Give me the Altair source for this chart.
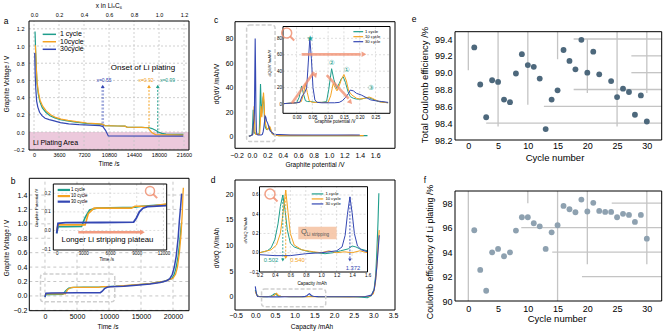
import altair as alt
import pandas as pd

FONT = "Liberation Sans"
SYM = "DejaVu Sans"
TEAL = "#1f9e8c"
ORANGE = "#f5a322"
BLUE = "#3447b3"
SALMON = "#f08b6b"
GRIDC = "#c4c4c4"
SERIES = ["1 cycle", "10 cycle", "30 cycle"]

# ---------------- panel a : discharge (plating) ----------------
A_T_1 = [150, 220, 300, 420, 600, 850, 1200, 1700, 2300, 3000, 3800, 4800, 6000, 7500, 8800, 9800, 10200, 12000, 13100, 13400, 15500, 16600, 17000, 17500, 17900, 18400, 19000, 21500]
A_V_1 = [1.17, 0.98, 0.80, 0.58, 0.45, 0.35, 0.28, 0.23, 0.19, 0.165, 0.145, 0.13, 0.115, 0.10, 0.095, 0.09, 0.075, 0.07, 0.068, 0.058, 0.055, 0.05, 0.04, 0.02, 0.0, -0.015, -0.025, -0.027]
A_T_10 = [200, 260, 330, 450, 620, 870, 1250, 1750, 2400, 3100, 3900, 4900, 6100, 7600, 8900, 9800, 10200, 12000, 13100, 13400, 15500, 16400, 16700, 17000, 17500, 21500]
A_V_10 = [1.01, 0.90, 0.75, 0.58, 0.47, 0.37, 0.30, 0.245, 0.20, 0.17, 0.15, 0.135, 0.12, 0.105, 0.098, 0.092, 0.075, 0.07, 0.068, 0.058, 0.055, 0.05, 0.02, -0.01, -0.03, -0.035]
A_T_30 = [100, 180, 260, 380, 550, 800, 1150, 1600, 2200, 2900, 3800, 5000, 6500, 8000, 9500, 9900, 10300, 10700, 21500]
A_V_30 = [0.92, 0.65, 0.50, 0.36, 0.29, 0.23, 0.19, 0.16, 0.145, 0.13, 0.11, 0.095, 0.085, 0.08, 0.075, 0.065, 0.02, -0.045, -0.047]
A_XTICKS = [0, 3600, 7200, 10800, 14400, 18000, 21600]
A_TOPTICKS = [0.0, 0.2, 0.4, 0.6, 0.8, 1.0, 1.2]
A_YTICKS = [-0.2, 0.0, 0.2, 0.4, 0.6, 0.8, 1.0, 1.2]
A_ONSET_X = [0.55, 0.92, 0.99]
A_ONSET_T = [9900, 16560, 17820]
A_ONSET_LOW = [0.05, 0.05, -0.016]

# ---------------- panel b : charge (stripping) ----------------
B_T_1 = [0, 150, 1000, 2800, 3200, 3700, 4500, 6000, 8800, 9550, 12300, 13800, 16400, 18500, 19300, 19800, 20200, 20500, 20800, 21050, 21250, 21350]
B_V_1 = [-0.015, 0.02, 0.02, 0.022, 0.07, 0.11, 0.12, 0.122, 0.125, 0.13, 0.14, 0.15, 0.17, 0.2, 0.225, 0.24, 0.3, 0.4, 0.55, 0.75, 0.95, 1.02]
B_T_10 = [0, 150, 1000, 3200, 3550, 4200, 6000, 8400, 8800, 10500, 12300, 13800, 16400, 18500, 19500, 20000, 20400, 20700, 21000, 21250, 21450, 21550, 21620]
B_V_10 = [0.0, 0.03, 0.03, 0.03, 0.09, 0.12, 0.12, 0.12, 0.13, 0.13, 0.142, 0.152, 0.172, 0.2, 0.23, 0.245, 0.3, 0.4, 0.6, 0.85, 1.15, 1.4, 1.5]
B_T_30 = [0, 150, 1000, 5000, 8650, 8950, 9300, 9700, 10200, 12300, 13800, 16400, 18000, 19000, 19500, 19900, 20200, 20500, 20800, 21000, 21200, 21350]
B_V_30 = [-0.015, 0.038, 0.042, 0.043, 0.045, 0.066, 0.10, 0.12, 0.128, 0.134, 0.145, 0.165, 0.185, 0.21, 0.24, 0.3, 0.4, 0.55, 0.8, 1.05, 1.25, 1.42]
B_XTICKS = [0, 5000, 10000, 15000, 20000]
B_YTICKS = [-0.2, 0.0, 0.2, 0.4, 0.6, 0.8, 1.0, 1.2, 1.4]
BI_XTICKS = [0, 3000, 6000, 9000, 12000]
BI_YTICKS = [-0.1, 0.0, 0.1, 0.2]

# ---------------- panel c : dQ/dV ----------------
C_X_1 = [-0.04, -0.02, 0.0, 0.008, 0.016, 0.022, 0.028, 0.035, 0.045, 0.06, 0.08, 0.095, 0.102, 0.111, 0.118, 0.127, 0.135, 0.142, 0.148, 0.155, 0.163, 0.17, 0.18, 0.19, 0.205, 0.215, 0.227, 0.24, 0.26, 0.29, 0.35, 0.5, 0.8, 1.1, 1.4, 1.5]
C_Y_1 = [0.5, 1, 1.5, 8, 22, 12, 4, 3, 3, 2, 2, 3, 18, 43, 30, 19, 25, 31, 33, 26, 15, 9, 7, 6, 6, 7, 8, 6, 3, 1.5, 1, 1, 1, 1, 1, 1]
C_X_10 = [-0.04, -0.02, 0.0, 0.015, 0.022, 0.028, 0.034, 0.04, 0.05, 0.06, 0.08, 0.1, 0.108, 0.116, 0.122, 0.128, 0.135, 0.142, 0.15, 0.158, 0.165, 0.175, 0.19, 0.2, 0.215, 0.23, 0.24, 0.25, 0.265, 0.29, 0.35, 0.5, 0.8, 1.1, 1.3, 1.4, 1.45]
C_Y_10 = [0.5, 1, 1.5, 3, 12, 25, 14, 4, 2, 2, 2, 2, 10, 25, 20, 16, 22, 30, 36, 28, 16, 11, 7, 6, 7, 8.5, 7, 5, 2.5, 1.5, 1, 1.2, 1, 1, 1.2, 1, 1]
C_X_30 = [-0.04, -0.02, 0.0, 0.01, 0.018, 0.026, 0.032, 0.037, 0.042, 0.047, 0.052, 0.058, 0.065, 0.08, 0.1, 0.12, 0.135, 0.145, 0.155, 0.165, 0.17, 0.18, 0.19, 0.205, 0.22, 0.235, 0.25, 0.27, 0.29, 0.5, 0.8, 1.1, 1.4]
C_Y_30 = [0.5, 1, 1.5, 2, 10, 14, 20, 50, 80, 55, 20, 5, 2, 1.5, 1.5, 1.5, 2, 4, 8, 13, 17, 16, 13, 11, 8, 5, 4, 3, 2, 1.5, 1.5, 1.5, 1.5]
C_XTICKS = [-0.2, 0.0, 0.2, 0.4, 0.6, 0.8, 1.0, 1.2, 1.4, 1.6]
C_YTICKS = [0, 20, 40, 60, 80]
CI_XTICKS = [0.0, 0.05, 0.10, 0.15, 0.20, 0.25]
CI_YTICKS = [0, 20, 40, 60, 80]

# ---------------- panel d : dV/dQ ----------------
D_X_1 = [0.0, 0.04, 0.08, 0.2, 0.3, 0.35, 0.4, 0.44, 0.47, 0.502, 0.53, 0.56, 0.6, 0.65, 0.75, 0.85, 0.95, 1.05, 1.15, 1.25, 1.35, 1.4, 1.45, 1.5, 1.6, 1.8, 2.2, 2.5, 2.7, 2.85, 2.95, 3.02, 3.06, 3.09, 3.12, 3.14]
D_Y_1 = [1.3, 0.4, 0.05, 0.0, 0.02, 0.05, 0.14, 0.3, 0.48, 0.6, 0.45, 0.24, 0.1, 0.06, 0.03, 0.01, 0.0, -0.01, 0.0, 0.02, 0.04, 0.07, 0.06, 0.04, 0.02, 0.01, 0.0, 0.0, -0.1, -0.2, 0.2, 1.5, 4.3, 9.0, 15.0, 20.2]
D_X_10 = [0.0, 0.04, 0.08, 0.2, 0.35, 0.42, 0.47, 0.5, 0.54, 0.57, 0.6, 0.65, 0.75, 0.9, 1.0, 1.1, 1.2, 1.3, 1.4, 1.5, 1.6, 2.0, 2.4, 2.6, 2.9, 3.0, 3.05, 3.09, 3.12, 3.15]
D_Y_10 = [1.0, 0.3, 0.05, 0.0, 0.03, 0.08, 0.2, 0.38, 0.65, 0.42, 0.2, 0.08, 0.03, 0.01, 0.0, 0.02, 0.0, 0.01, 0.0, 0.02, 0.0, 0.0, -0.05, 0.0, 0.1, 0.6, 2.5, 6.0, 10.0, 13.0]
D_X_30 = [0.0, 0.03, 0.06, 0.2, 0.4, 0.6, 0.8, 1.0, 1.2, 1.27, 1.31, 1.34, 1.372, 1.4, 1.43, 1.47, 1.52, 1.6, 2.0, 2.5, 2.8, 2.95, 3.02, 3.06, 3.1, 3.13, 3.15]
D_Y_30 = [2.0, 0.5, 0.05, -0.02, -0.03, -0.03, -0.01, 0.0, 0.02, 0.06, 0.18, 0.4, 0.58, 0.42, 0.2, 0.07, 0.03, 0.01, 0.0, 0.0, 0.05, 0.3, 1.3, 3.5, 7.0, 10.0, 12.0]
D_XTICKS = [-0.5, 0.0, 0.5, 1.0, 1.5, 2.0, 2.5, 3.0, 3.5]
D_YTICKS = [0, 5, 10, 15, 20]
DI_XTICKS = [0.2, 0.4, 0.6, 0.8, 1.0, 1.2, 1.4, 1.6]
DI_YTICKS = [-0.2, 0.0, 0.2, 0.4, 0.6]
D_PEAK_Q = [0.502, 0.540, 1.372]
D_PEAK_V = [0.6, 0.65, 0.58]
D_PEAK_LOW = [-0.075, -0.05, -0.075]

# ---------------- panel e / f : efficiencies ----------------
E_CYCLE = [1, 2, 3, 4, 5, 6, 7, 8, 9, 10, 11, 12, 13, 14, 15, 16, 17, 18, 19, 20, 21, 22, 24, 25, 26, 27, 28, 29, 30]
E_CE = [99.30, 98.86, 98.47, 98.91, 98.89, 98.68, 98.65, 98.99, 99.22, 99.09, 99.07, 98.93, 98.33, 98.68, 98.79, 99.27, 99.14, 99.04, 99.39, 99.00, 99.25, 98.98, 98.90, 98.71, 98.81, 98.77, 98.50, 98.73, 98.42]
F_CYCLE = list(range(1, 31))
F_CE = [95.79, 92.54, 90.84, 93.98, 94.26, 93.66, 93.98, 95.76, 96.85, 96.85, 96.36, 96.11, 94.26, 95.62, 96.20, 97.78, 97.51, 97.26, 98.30, 97.32, 98.03, 97.37, 97.29, 97.29, 96.85, 97.13, 97.04, 96.47, 97.04, 95.10]
EF_XTICKS = [0, 5, 10, 15, 20, 25, 30]
E_YTICKS = [98.2, 98.4, 98.6, 98.8, 99.0, 99.2, 99.4]
F_YTICKS = [90, 92, 94, 96, 98]
E_VX = [0, 5, 10, 15, 20, 25, 30]
E_VY0 = [99.487, 99.487, 99.487, 99.487, 99.4, 99.487, 99.487]
E_VY1 = [99.03, 98.36, 98.62, 99.16, 98.76, 98.36, 98.76]
E_HY = [99.4, 99.2, 99.0, 98.8, 98.6, 98.4]
E_HX0 = [17.7, 27.4, 27.4, 17.7, 12.7, 3.0]
F_VX = [0, 10, 15, 20, 30]
F_VY0 = [99, 99, 99, 99, 99]
F_VY1 = [90, 98, 90, 93, 93]
F_HY = [98, 96, 94, 92]
F_HX0 = [24.1, 8.9, 14.1, 19.1]

ONE = pd.DataFrame({"k": [0]})


def sc(d, r):
    return alt.Scale(domain=list(d), range=list(r), zero=False, nice=False)


class Panel:
    def __init__(self, xd, xr, yd, yr):
        self.xd, self.xr, self.yd, self.yr = xd, xr, yd, yr

    def ex(self, f, axis=None):
        return alt.X(f, type="quantitative", scale=sc(self.xd, self.xr), axis=axis)

    def ey(self, f, axis=None):
        return alt.Y(f, type="quantitative", scale=sc(self.yd, self.yr), axis=axis)


def ax(orient, offset, values, size, pad, fmt="d"):
    return alt.Axis(orient=orient, offset=offset, values=values, grid=False, domain=False, ticks=False,
                    labelFont=FONT, labelFontSize=size, labelColor="black", labelPadding=pad,
                    labelOverlap=False, labelFlush=False, title=None, format=fmt)


def carrier(p, xaxis=None, yaxis=None):
    df = pd.DataFrame({"x": [p.xd[0], p.xd[1]], "y": [p.yd[0], p.yd[1]]})
    return alt.Chart(df).mark_point(opacity=0).encode(x=p.ex("x", xaxis), y=p.ey("y", yaxis))


def curve(p, xs, ys, color, width=1.2, flt=None):
    df = pd.DataFrame({"x": xs, "y": ys, "i": list(range(len(xs)))})
    ch = alt.Chart(df)
    if flt:
        ch = ch.transform_filter(flt)
    return ch.mark_line(color=color, strokeWidth=width).encode(x=p.ex("x"), y=p.ey("y"), order="i:Q")


def seg(p, x0, y0, x1, y1, color, width=1.0, dash=None, opacity=1.0):
    df = pd.DataFrame({"x0": x0, "y0": y0, "x1": x1, "y1": y1})
    kw = dict(color=color, strokeWidth=width, opacity=opacity)
    if dash:
        kw["strokeDash"] = dash
    return alt.Chart(df).mark_rule(**kw).encode(x=p.ex("x0"), y=p.ey("y0"), x2="x1:Q", y2="y1:Q")


def box(p, x0, x1, y0, y1, **kw):
    df = pd.DataFrame({"x0": [x0], "x1": [x1], "y0": [y0], "y1": [y1]})
    return alt.Chart(df).mark_rect(**kw).encode(x=p.ex("x0"), x2="x1:Q", y=p.ey("y0"), y2="y1:Q")


def frame(p, width=1.0):
    return box(p, p.xd[0], p.xd[1], p.yd[0], p.yd[1], fillOpacity=0, stroke="black", strokeWidth=width)


def bg(p):
    return box(p, p.xd[0], p.xd[1], p.yd[0], p.yd[1], color="white")


def grid(p, xv, yv, color=GRIDC, width=0.8, dash=(2, 2)):
    out = []
    if xv:
        out.append(seg(p, xv, [p.yd[0]] * len(xv), xv, [p.yd[1]] * len(xv), color, width, list(dash)))
    if yv:
        out.append(seg(p, [p.xd[0]] * len(yv), yv, [p.xd[1]] * len(yv), yv, color, width, list(dash)))
    return out


def pts(p, xs, ys, color, size, shape="circle", angle=0, opacity=1.0):
    df = pd.DataFrame({"x": xs, "y": ys})
    kw = dict(shape=shape, filled=True, color=color, size=size, opacity=opacity)
    if angle:
        kw["angle"] = angle
    return alt.Chart(df).mark_point(**kw).encode(x=p.ex("x"), y=p.ey("y"))


def text(s, x, y, size, color="black", angle=0, align="center", font=FONT):
    kw = dict(text=s, fontSize=size, color=color, align=align, baseline="middle", font=font)
    if angle:
        kw["angle"] = angle
    return alt.Chart(ONE).mark_text(**kw).encode(x=alt.value(x), y=alt.value(y))


def magnifier(cx, cy, r):
    c = alt.Chart(ONE).mark_point(shape="circle", filled=False, color=SALMON, strokeWidth=1.5,
                                  size=(2 * r) ** 2, opacity=0.8).encode(x=alt.value(cx), y=alt.value(cy))
    h = alt.Chart(ONE).mark_rule(color=SALMON, strokeWidth=2, opacity=0.8).encode(
        x=alt.value(cx + 0.7 * r), y=alt.value(cy + 0.7 * r), x2=alt.value(cx + 0.7 * r + 4), y2=alt.value(cy + 0.7 * r + 4))
    return [c, h]


COLS = [TEAL, ORANGE, BLUE]
L = []

# ======================= panel a =======================
PA = Panel((-720, 22320), (29, 189), (-0.209, 1.291), (150, 21))
PAT = Panel((-0.04, 1.24), (29, 189), (-0.209, 1.291), (150, 21))
L.append(box(PA, PA.xd[0], PA.xd[1], PA.yd[0], 0.0, color="#ecc9dc"))
L += grid(PA, A_XTICKS, A_YTICKS)
L.append(curve(PA, A_T_1, A_V_1, TEAL))
L.append(curve(PA, A_T_10, A_V_10, ORANGE))
L.append(curve(PA, A_T_30, A_V_30, BLUE))
L.append(seg(PA, [A_ONSET_T[0]], [0.53], [A_ONSET_T[0]], [A_ONSET_LOW[0]], BLUE, 2.6, [2, 1.5], 0.45))
L.append(seg(PA, [A_ONSET_T[1]], [0.53], [A_ONSET_T[1]], [A_ONSET_LOW[1]], ORANGE, 1.0, [2, 1.5]))
L.append(seg(PA, [A_ONSET_T[2]], [0.53], [A_ONSET_T[2]], [A_ONSET_LOW[2]], TEAL, 1.0, [2, 1.5]))
for t, c in zip(A_ONSET_T, [BLUE, ORANGE, TEAL]):
    L.append(pts(PA, [t], [0.53], c, 14, "triangle-up"))
L.append(seg(PA, [1250], [1.136], [3170], [1.136], TEAL, 1.5))
L.append(seg(PA, [1250], [1.05], [3170], [1.05], ORANGE, 1.5))
L.append(seg(PA, [1250], [0.962], [3170], [0.962], BLUE, 1.5))
L.append(frame(PA))
L.append(carrier(PA, ax("bottom", -185, A_XTICKS, 5.5, 2), ax("left", -29, A_YTICKS, 5.5, 5, ".1f")))
L.append(carrier(PAT, ax("top", -21, A_TOPTICKS, 5.5, 4, ".1f"), None))
L += [
    text("a", 6, 21, 8.5),
    text("x in LiₓC₆", 109, 5.5, 6.5),
    text("Graphite Voltage / V", 7, 84, 6.3, angle=270),
    text("Time /s", 109, 164, 6.5),
    text("Onset of Li plating", 143, 67.7, 8),
    text("x=" + format(A_ONSET_X[0], ".2f"), 104, 80, 5, BLUE),
    text("x=" + format(A_ONSET_X[1], ".2f"), 146, 80, 5, ORANGE),
    text("x=" + format(A_ONSET_X[2], ".2f"), 167.5, 80, 5, TEAL),
    text("1 cycle", 60, 33.8, 7, align="left"),
    text("10cycle", 60, 41.5, 7, align="left"),
    text("30cycle", 60, 49.3, 7, align="left"),
    text("Li Plating Area", 33, 143, 7, align="left"),
]

# ======================= panel b =======================
PB = Panel((-2450, 22500), (29.3, 189), (-0.205, 1.632), (310.7, 178.3))
PBI = Panel((-380, 12370), (53.3, 166.7), (-0.105, 0.25), (250, 184))
L += grid(PB, B_XTICKS, B_YTICKS, "#b8b8b8", 0.8, (3, 3))
L.append(curve(PB, B_T_1, B_V_1, TEAL, 1.3))
L.append(curve(PB, B_T_10, B_V_10, ORANGE, 1.3))
L.append(curve(PB, B_T_30, B_V_30, BLUE, 1.5))
L.append(box(PB, -700, 10900, -0.08, 0.305, fillOpacity=0, stroke="#cfcfcf", strokeWidth=1.5,
             strokeDash=[4, 2], cornerRadius=3))
L.append(frame(PB))
L.append(carrier(PB, ax("bottom", -24.3, B_XTICKS, 7, 1.5), ax("left", -29.3, B_YTICKS, 7, 2.5, ".1f")))
# inset b
L.append(bg(PBI))
L += grid(PBI, BI_XTICKS[1:], BI_YTICKS[1:], "#c8c8c8", 0.6, (2, 2))
FB = "datum.x <= 12370"
L.append(curve(PBI, B_T_1, B_V_1, TEAL, 1.6, FB))
L.append(curve(PBI, B_T_10, B_V_10, ORANGE, 1.6, FB))
L.append(curve(PBI, B_T_30, B_V_30, BLUE, 1.8, FB))
L.append(seg(PBI, [2430], [-0.01], [9400], [-0.01], SALMON, 2.5, None, 0.85))
L.append(pts(PBI, [9550], [-0.01], SALMON, 30, "triangle", 90, 0.9))
L.append(seg(PBI, [112], [0.218], [1495], [0.218], TEAL, 2.2))
L.append(seg(PBI, [112], [0.185], [1495], [0.185], ORANGE, 2.2))
L.append(seg(PBI, [112], [0.155], [1495], [0.155], BLUE, 2.2))
L.append(frame(PBI, 1.0))
L.append(carrier(PBI, ax("bottom", -85, BI_XTICKS, 4.5, 0.5), ax("left", -53.3, BI_YTICKS, 4.5, 3, ".1f")))
L += magnifier(150, 191, 4.5)
L += [
    text("b", 13, 181, 8.5),
    text("Graphite Voltage / V", 7, 248, 6.3, angle=270),
    text("Time /s", 108, 327, 6.5),
    text("Graphite Potential /V", 37, 208, 4.2, angle=270),
    text("Time /s", 106.7, 260, 4.5),
    text(SERIES[0], 71, 190, 4.5, align="left"),
    text(SERIES[1], 71, 196, 4.5, align="left"),
    text(SERIES[2], 71, 201.7, 4.5, align="left"),
    text("Longer Li stripping plateau", 107.5, 239.5, 7.8),
]

# ======================= panel c =======================
PC = Panel((-0.22, 1.857), (235, 395), (-9.3, 93.7), (148.3, 21.7))
PCI = Panel((-0.043, 0.296), (283, 390), (-11.3, 94.4), (113.3, 26.5))
L.append(curve(PC, C_X_1, C_Y_1, TEAL, 1.1))
L.append(curve(PC, C_X_10, C_Y_10, ORANGE, 1.1))
L.append(curve(PC, C_X_30, C_Y_30, BLUE, 1.1))
L.append(box(PC, -0.069, 0.30, -3.8, 91, fillOpacity=0, stroke="#cfcfcf", strokeWidth=1.5,
             strokeDash=[4, 2], cornerRadius=3))
L.append(frame(PC))
L.append(carrier(PC, ax("bottom", -186.7, C_XTICKS, 7, 3, ".1f"), ax("left", -235, C_YTICKS, 7, 2)))
# inset c
L.append(bg(PCI))
L += grid(PCI, CI_XTICKS, CI_YTICKS[1:], "#c8c8c8", 0.6, (2, 2))
FC = "datum.x <= 0.3"
L.append(curve(PCI, C_X_1, C_Y_1, TEAL, 1.0, FC))
L.append(curve(PCI, C_X_10, C_Y_10, ORANGE, 1.0, FC))
L.append(curve(PCI, C_X_30, C_Y_30, BLUE, 1.0, FC))
L.append(seg(PCI, [0.016], [60.5], [0.203], [60.5], SALMON, 2.6, None, 0.75))
L.append(pts(PCI, [0.211], [60.5], SALMON, 30, "triangle", 90, 0.8))
L.append(seg(PCI, [-0.015], [0.85], [0.055], [39.0], SALMON, 2.6, None, 0.75))
L.append(pts(PCI, [0.0585], [35.3], SALMON, 30, "triangle", 40, 0.8))
L.append(seg(PCI, [0.0956], [35.3], [0.165], [6.5], SALMON, 2.6, None, 0.75))
L.append(pts(PCI, [0.169], [2.8], SALMON, 30, "triangle", 139, 0.8))
L.append(seg(PCI, [0.18], [88.1], [0.211], [88.1], TEAL, 1.2))
L.append(seg(PCI, [0.18], [82.0], [0.211], [82.0], ORANGE, 1.2))
L.append(seg(PCI, [0.18], [75.9], [0.211], [75.9], BLUE, 1.2))
L.append(frame(PCI, 1.0))
L.append(carrier(PCI, ax("bottom", -221.7, CI_XTICKS, 4.5, 1, ".2f"), ax("left", -283, CI_YTICKS, 4.5, 1.5)))
L += magnifier(286.7, 33, 5)
L += [
    text("c", 216, 20, 8.5),
    text("dQ/dV /mAh/V", 217, 84, 6.3, angle=270),
    text("Graphite potential /V", 315, 165, 6.5),
    text("dQ/dV /mAh/V", 270, 63, 4.2, angle=270),
    text("Graphite potential /V", 335, 122, 4.5),
    text(SERIES[0], 365, 31.7, 4.2, align="left"),
    text(SERIES[1], 365, 36.7, 4.2, align="left"),
    text(SERIES[2], 365, 41.7, 4.2, align="left"),
    text("★", 310, 38.5, 8, TEAL, font=SYM),
    text("②", 331.7, 63.3, 7, TEAL, font=SYM),
    text("①", 346.7, 70, 7, TEAL, font=SYM),
    text("③", 371, 88.3, 7, TEAL, font=SYM),
]

# ======================= panel d =======================
PD = Panel((-0.515, 3.55), (235, 395), (-2.6, 22.8), (310, 180))
PDI = Panel((0.2, 1.6), (259.5, 367.5), (-0.2, 0.686), (272, 186.7))
L.append(curve(PD, D_X_1, D_Y_1, TEAL, 1.1))
L.append(curve(PD, D_X_10, D_Y_10, ORANGE, 1.1))
L.append(curve(PD, D_X_30, D_Y_30, BLUE, 1.1))
L.append(box(PD, 0.16, 1.79, -1.95, 1.5, fillOpacity=0, stroke="#cfcfcf", strokeWidth=1.5,
             strokeDash=[4, 2], cornerRadius=3))
L.append(frame(PD))
L.append(carrier(PD, ax("bottom", -25, D_XTICKS, 7, 1.5, ".1f"), ax("left", -235, D_YTICKS, 7, 2)))
# inset d
L.append(bg(PDI))
L += grid(PDI, DI_XTICKS[1:-1], DI_YTICKS[1:], "#c8c8c8", 0.6, (2, 2))
L.append(box(PDI, 0.703, 1.2, 0.14, 0.271, color="#f5c4a5", opacity=0.9))
FD = "datum.x >= 0.2 && datum.x <= 1.6"
L.append(curve(PDI, D_X_1, D_Y_1, TEAL, 1.0, FD))
L.append(curve(PDI, D_X_10, D_Y_10, ORANGE, 1.0, FD))
L.append(curve(PDI, D_X_30, D_Y_30, BLUE, 1.0, FD))
for q, v, lo, c in zip(D_PEAK_Q, D_PEAK_V, D_PEAK_LOW, COLS):
    L.append(seg(PDI, [q], [v], [q], [lo], c, 0.9, [2, 1.5]))
    L.append(pts(PDI, [q], [lo], c, 12, "triangle-down"))
L.append(seg(PDI, [0.877], [0.611], [1.027], [0.611], TEAL, 1.2))
L.append(seg(PDI, [0.877], [0.559], [1.027], [0.559], ORANGE, 1.2))
L.append(seg(PDI, [0.877], [0.507], [1.027], [0.507], BLUE, 1.2))
L.append(frame(PDI, 1.0))
L.append(carrier(PDI, ax("bottom", -63, DI_XTICKS, 4.5, 0.5, ".1f"), ax("left", -259.5, DI_YTICKS, 4.5, 1.5, ".1f")))
L += magnifier(270, 194, 5)
L += [
    text("d", 213, 180, 8.5),
    text("dV/dQ /V/mAh", 217, 248, 6.3, angle=270),
    text("Capacity /mAh", 312, 327, 6.5),
    text("dV/dQ /V/mAh", 246, 230, 4.2, angle=270),
    text("Capacity /mAh", 312, 283.5, 4.5),
    text(SERIES[0], 325.5, 194, 4.2, align="left"),
    text(SERIES[1], 325.5, 199, 4.2, align="left"),
    text(SERIES[2], 325.5, 204, 4.2, align="left"),
    text(format(D_PEAK_Q[0], ".3f"), 271, 260, 5.8, TEAL),
    text(format(D_PEAK_Q[1], ".3f"), 297.5, 260, 5.8, ORANGE),
    text(format(D_PEAK_Q[2], ".3f"), 353, 268.3, 5.8, BLUE),
    text("Q", 304, 232.3, 7.5, "#555555"),
    text("Li stripping", 306.8, 234.5, 4.6, "#555555", align="left"),
]

# ======================= panel e =======================
PE = Panel((-2.24, 32.5), (455, 661.7), (98.2, 99.487), (140, 31.7))
L.append(seg(PE, E_VX, E_VY0, E_VX, E_VY1, "#c4c4c4", 1.3))
L.append(seg(PE, E_HX0, E_HY, [32.5] * len(E_HY), E_HY, "#c4c4c4", 1.3))
L.append(pts(PE, E_CYCLE, E_CE, "#4d687c", 34))
L.append(frame(PE))
L.append(carrier(PE, ax("bottom", -195, EF_XTICKS, 9, 1.5), ax("left", -455, E_YTICKS, 9, 3, ".1f")))
L += [
    text("e", 414, 19, 8.5),
    text("Total Coulomb efficiency /%", 425, 85, 9.5, angle=270),
    text("Cycle number", 555, 157.5, 9.5),
]

# ======================= panel f =======================
PF = Panel((-2.24, 32.5), (455, 661.7), (90, 99.0), (301, 191))
L.append(seg(PF, F_VX, F_VY0, F_VX, F_VY1, "#c4c4c4", 1.3))
L.append(seg(PF, F_HX0, F_HY, [32.5] * len(F_HY), F_HY, "#c4c4c4", 1.3))
L.append(pts(PF, F_CYCLE, F_CE, "#8ea1b0", 34))
L.append(frame(PF))
L.append(carrier(PF, ax("bottom", -34, EF_XTICKS, 9, 3), ax("left", -455, F_YTICKS, 9, 3)))
L += [
    text("f", 425, 180, 8.5),
    text("Coulomb efficiency of Li plating /%", 430, 252, 8.8, angle=270),
    text("Cycle number", 557, 319, 9.5),
]

chart = alt.layer(*L).resolve_scale(x="independent", y="independent").properties(
    width=671, height=335, autosize=alt.AutoSizeParams(type="none"), padding=0, background="white"
).configure_view(stroke=None)

chart.save("out.html", embed_options={"renderer": "svg", "actions": False})
